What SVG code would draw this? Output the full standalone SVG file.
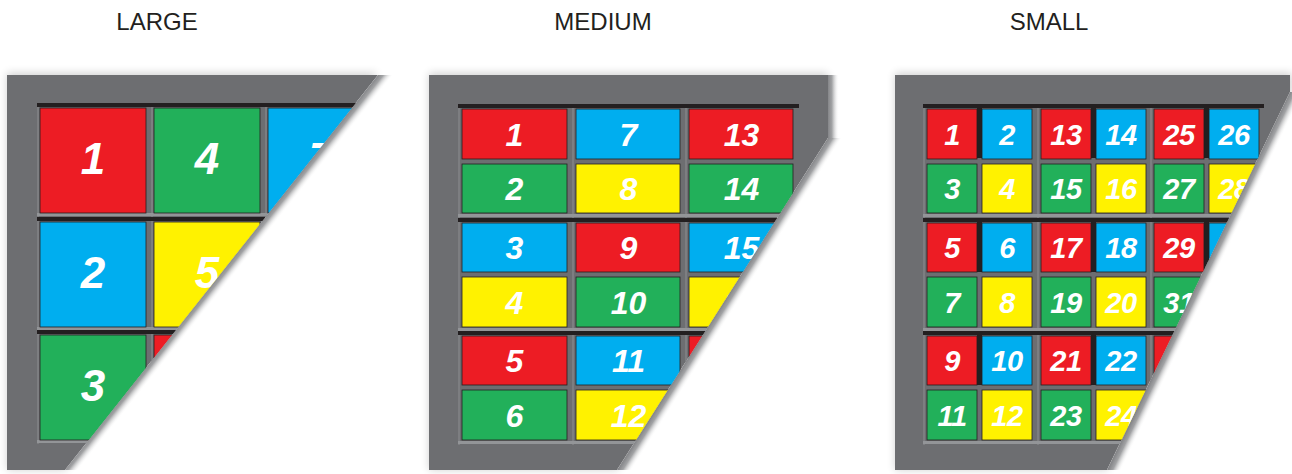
<svg xmlns="http://www.w3.org/2000/svg" width="1292" height="474" viewBox="0 0 1292 474">
<style>
.title{font-family:"Liberation Sans",Arial,sans-serif;font-size:24px;fill:#231f20;text-anchor:middle}
.panel{fill:#6d6e71}
.top{fill:#231f20}
.bot{fill:#939598}
.lft{fill:#7d7e81}
.cell rect{stroke:#231f20;stroke-width:0.8}
.red{fill:#ed1c24}.green{fill:#22b05a}.blue{fill:#00aeef}.yellow{fill:#fff200}
.n{font-family:"Liberation Sans",Arial,sans-serif;font-weight:bold;font-style:italic;fill:#fff;text-anchor:middle}
.nl{font-size:44px}.nm{font-size:32px}.ns{font-size:29px;letter-spacing:-0.5px}
</style>
<defs>
<filter id="soft" x="-10%" y="-10%" width="120%" height="120%"><feGaussianBlur stdDeviation="4"/></filter>
<clipPath id="cL"><polygon points="7,75 378,75 65,470 7,470"/></clipPath>
<clipPath id="cM"><polygon points="429,75 828,75 828,138 617,470 429,470"/></clipPath>
<clipPath id="cS"><polygon points="895,75 1290,75 1290,92 1107,470 895,470"/></clipPath>
<linearGradient id="gL" gradientUnits="userSpaceOnUse" x1="378" y1="75" x2="387.4" y2="82.5"><stop offset="0" stop-color="#858689"/><stop offset="0.35" stop-color="#a2a3a5"/><stop offset="1" stop-color="#fff" stop-opacity="0"/></linearGradient>
<linearGradient id="gM" gradientUnits="userSpaceOnUse" x1="828" y1="138" x2="838.1" y2="144.4"><stop offset="0" stop-color="#858689"/><stop offset="0.35" stop-color="#a2a3a5"/><stop offset="1" stop-color="#fff" stop-opacity="0"/></linearGradient>
<linearGradient id="gMv" gradientUnits="userSpaceOnUse" x1="828" y1="0" x2="839" y2="0"><stop offset="0" stop-color="#858689"/><stop offset="0.35" stop-color="#a2a3a5"/><stop offset="1" stop-color="#fff" stop-opacity="0"/></linearGradient>
<linearGradient id="gS" gradientUnits="userSpaceOnUse" x1="1290" y1="92" x2="1300.8" y2="97.2"><stop offset="0" stop-color="#858689"/><stop offset="0.35" stop-color="#a2a3a5"/><stop offset="1" stop-color="#fff" stop-opacity="0"/></linearGradient>
</defs>
<rect width="1292" height="474" fill="#fff"/>

<g id="titles">
<text class="title" x="157" y="30">LARGE</text>
<text class="title" x="603" y="30">MEDIUM</text>
<text class="title" x="1049" y="30">SMALL</text>
</g>

<!-- LARGE -->
<g id="large">
<polygon points="7,73 378,73 65,470 7,470" fill="#000" opacity="0.18" filter="url(#soft)"/>
<polygon points="378,75 396,75 83,470 65,470" fill="url(#gL)"/>
<g clip-path="url(#cL)">
<polygon class="panel" points="7,75 378,75 65,470 7,470"/>
<g id="L-slots">
<g transform="translate(37,103)"><rect class="lft" width="2" height="114"/><rect class="top" width="114" height="4"/><rect class="bot" y="110" width="114" height="3"/></g>
<g transform="translate(151,103)"><rect class="lft" width="2" height="114"/><rect class="top" width="114" height="4"/><rect class="bot" y="110" width="114" height="3"/></g>
<g transform="translate(265,103)"><rect class="lft" width="2" height="114"/><rect class="top" width="114" height="4"/><rect class="bot" y="110" width="114" height="3"/></g>
<g transform="translate(37,217)"><rect class="lft" width="2" height="114"/><rect class="top" width="114" height="4"/><rect class="bot" y="110" width="114" height="3"/></g>
<g transform="translate(151,217)"><rect class="lft" width="2" height="114"/><rect class="top" width="114" height="4"/><rect class="bot" y="110" width="114" height="3"/></g>
<g transform="translate(37,330)"><rect class="lft" width="2" height="114"/><rect class="top" width="114" height="4"/><rect class="bot" y="110" width="114" height="3"/></g>
<g transform="translate(151,330)"><rect class="lft" width="2" height="114"/><rect class="top" width="114" height="4"/><rect class="bot" y="110" width="114" height="3"/></g>
</g>
<g id="L1" class="cell"><rect class="red" x="40" y="108" width="106" height="105"/><text class="n nl" x="93" y="174">1</text></g>
<g id="L2" class="cell"><rect class="blue" x="40" y="222" width="106" height="105"/><text class="n nl" x="93" y="288">2</text></g>
<g id="L3" class="cell"><rect class="green" x="40" y="335" width="106" height="105"/><text class="n nl" x="93" y="401">3</text></g>
<g id="L4" class="cell"><rect class="green" x="154" y="108" width="106" height="105"/><text class="n nl" x="207" y="174">4</text></g>
<g id="L5" class="cell"><rect class="yellow" x="154" y="222" width="106" height="105"/><text class="n nl" x="207" y="288">5</text></g>
<g id="L6" class="cell"><rect class="red" x="154" y="335" width="106" height="105"/></g>
<g id="L7" class="cell"><rect class="blue" x="268" y="108" width="106" height="105"/><text class="n nl" x="321" y="174">7</text></g>
</g>
</g>

<!-- MEDIUM -->
<g id="medium">
<polygon points="429,73 828,73 828,138 617,470 429,470" fill="#000" opacity="0.18" filter="url(#soft)"/>
<rect x="828" y="75" width="12" height="63" fill="url(#gMv)"/>
<polygon points="828,138 846,138 635,470 617,470" fill="url(#gM)"/>
<g clip-path="url(#cM)">
<polygon class="panel" points="429,75 828,75 828,138 617,470 429,470"/>
<g id="M-slots">
<g transform="translate(458,104)"><rect class="lft" width="2" height="114"/><rect class="top" width="114" height="4"/><rect class="bot" y="110" width="114" height="3"/></g>
<g transform="translate(572,104)"><rect class="lft" width="2" height="114"/><rect class="top" width="114" height="4"/><rect class="bot" y="110" width="114" height="3"/></g>
<g transform="translate(685,104)"><rect class="lft" width="2" height="114"/><rect class="top" width="114" height="4"/><rect class="bot" y="110" width="114" height="3"/></g>
<g transform="translate(458,218)"><rect class="lft" width="2" height="114"/><rect class="top" width="114" height="4"/><rect class="bot" y="110" width="114" height="3"/></g>
<g transform="translate(572,218)"><rect class="lft" width="2" height="114"/><rect class="top" width="114" height="4"/><rect class="bot" y="110" width="114" height="3"/></g>
<g transform="translate(685,218)"><rect class="lft" width="2" height="114"/><rect class="top" width="114" height="4"/><rect class="bot" y="110" width="114" height="3"/></g>
<g transform="translate(458,331)"><rect class="lft" width="2" height="114"/><rect class="top" width="114" height="4"/><rect class="bot" y="110" width="114" height="3"/></g>
<g transform="translate(572,331)"><rect class="lft" width="2" height="114"/><rect class="top" width="114" height="4"/><rect class="bot" y="110" width="114" height="3"/></g>
<g transform="translate(685,331)"><rect class="lft" width="2" height="114"/><rect class="top" width="114" height="4"/><rect class="bot" y="110" width="114" height="3"/></g>
</g>
<g id="M1" class="cell"><rect class="red" x="462" y="109" width="105" height="50"/><text class="n nm" x="514.5" y="146">1</text></g>
<g id="M2" class="cell"><rect class="green" x="462" y="164" width="105" height="49"/><text class="n nm" x="514.5" y="200">2</text></g>
<g id="M3" class="cell"><rect class="blue" x="462" y="223" width="105" height="49"/><text class="n nm" x="514.5" y="259">3</text></g>
<g id="M4" class="cell"><rect class="yellow" x="462" y="277" width="105" height="50"/><text class="n nm" x="514.5" y="314">4</text></g>
<g id="M5" class="cell"><rect class="red" x="462" y="336" width="105" height="49"/><text class="n nm" x="514.5" y="372">5</text></g>
<g id="M6" class="cell"><rect class="green" x="462" y="390" width="105" height="50"/><text class="n nm" x="514.5" y="427">6</text></g>
<g id="M7" class="cell"><rect class="blue" x="576" y="109" width="104" height="50"/><text class="n nm" x="628.5" y="146">7</text></g>
<g id="M8" class="cell"><rect class="yellow" x="576" y="164" width="104" height="49"/><text class="n nm" x="628.5" y="200">8</text></g>
<g id="M9" class="cell"><rect class="red" x="576" y="223" width="104" height="49"/><text class="n nm" x="628.5" y="259">9</text></g>
<g id="M10" class="cell"><rect class="green" x="576" y="277" width="104" height="50"/><text class="n nm" x="628.5" y="314">10</text></g>
<g id="M11" class="cell"><rect class="blue" x="576" y="336" width="104" height="49"/><text class="n nm" x="628.5" y="372">11</text></g>
<g id="M12" class="cell"><rect class="yellow" x="576" y="390" width="104" height="50"/><text class="n nm" x="628.5" y="427">12</text></g>
<g id="M13" class="cell"><rect class="red" x="689" y="109" width="104" height="50"/><text class="n nm" x="741.5" y="146">13</text></g>
<g id="M14" class="cell"><rect class="green" x="689" y="164" width="104" height="49"/><text class="n nm" x="741.5" y="200">14</text></g>
<g id="M15" class="cell"><rect class="blue" x="689" y="223" width="104" height="49"/><text class="n nm" x="741.5" y="259">15</text></g>
<g id="M16" class="cell"><rect class="yellow" x="689" y="277" width="104" height="50"/><text class="n nm" x="741.5" y="314">16</text></g>
<g id="M17" class="cell"><rect class="red" x="689" y="336" width="104" height="49"/></g>
</g>
</g>

<!-- SMALL -->
<g id="small">
<polygon points="895,73 1292,73 1292,92 1107,470 895,470" fill="#000" opacity="0.18" filter="url(#soft)"/>
<polygon points="1290,92 1308,92 1125,470 1107,470" fill="url(#gS)"/>
<g clip-path="url(#cS)">
<polygon class="panel" points="895,75 1290,75 1290,92 1107,470 895,470"/>
<g id="S-slots">
<g transform="translate(923,104)"><rect class="lft" width="2" height="114"/><rect class="top" width="114" height="4"/><rect class="top" x="54" width="5" height="54"/><rect class="bot" y="110" width="114" height="3"/></g>
<g transform="translate(1037,104)"><rect class="lft" width="2" height="114"/><rect class="top" width="114" height="4"/><rect class="top" x="54" width="5" height="54"/><rect class="bot" y="110" width="114" height="3"/></g>
<g transform="translate(1150,104)"><rect class="lft" width="2" height="114"/><rect class="top" width="114" height="4"/><rect class="top" x="54" width="5" height="54"/><rect class="bot" y="110" width="114" height="3"/></g>
<g transform="translate(923,218)"><rect class="lft" width="2" height="114"/><rect class="top" width="114" height="4"/><rect class="top" x="54" width="5" height="54"/><rect class="bot" y="110" width="114" height="3"/></g>
<g transform="translate(1037,218)"><rect class="lft" width="2" height="114"/><rect class="top" width="114" height="4"/><rect class="top" x="54" width="5" height="54"/><rect class="bot" y="110" width="114" height="3"/></g>
<g transform="translate(1150,218)"><rect class="lft" width="2" height="114"/><rect class="top" width="114" height="4"/><rect class="top" x="54" width="5" height="54"/><rect class="bot" y="110" width="114" height="3"/></g>
<g transform="translate(923,331)"><rect class="lft" width="2" height="114"/><rect class="top" width="114" height="4"/><rect class="top" x="54" width="5" height="54"/><rect class="bot" y="110" width="114" height="3"/></g>
<g transform="translate(1037,331)"><rect class="lft" width="2" height="114"/><rect class="top" width="114" height="4"/><rect class="top" x="54" width="5" height="54"/><rect class="bot" y="110" width="114" height="3"/></g>
<g transform="translate(1150,331)"><rect class="lft" width="2" height="114"/><rect class="top" width="114" height="4"/><rect class="top" x="54" width="5" height="54"/><rect class="bot" y="110" width="114" height="3"/></g>
</g>
<g id="S1" class="cell"><rect class="red" x="927" y="109" width="50" height="50"/><text class="n ns" x="952" y="144.5">1</text></g>
<g id="S2" class="cell"><rect class="blue" x="982" y="109" width="50" height="50"/><text class="n ns" x="1007" y="144.5">2</text></g>
<g id="S3" class="cell"><rect class="green" x="927" y="164" width="50" height="49"/><text class="n ns" x="952" y="199">3</text></g>
<g id="S4" class="cell"><rect class="yellow" x="982" y="164" width="50" height="49"/><text class="n ns" x="1007" y="199">4</text></g>
<g id="S5" class="cell"><rect class="red" x="927" y="223" width="50" height="49"/><text class="n ns" x="952" y="258">5</text></g>
<g id="S6" class="cell"><rect class="blue" x="982" y="223" width="50" height="49"/><text class="n ns" x="1007" y="258">6</text></g>
<g id="S7" class="cell"><rect class="green" x="927" y="277" width="50" height="50"/><text class="n ns" x="952" y="312.5">7</text></g>
<g id="S8" class="cell"><rect class="yellow" x="982" y="277" width="50" height="50"/><text class="n ns" x="1007" y="312.5">8</text></g>
<g id="S9" class="cell"><rect class="red" x="927" y="336" width="50" height="49"/><text class="n ns" x="952" y="371">9</text></g>
<g id="S10" class="cell"><rect class="blue" x="982" y="336" width="50" height="49"/><text class="n ns" x="1007" y="371">10</text></g>
<g id="S11" class="cell"><rect class="green" x="927" y="390" width="50" height="50"/><text class="n ns" x="952" y="425.5">11</text></g>
<g id="S12" class="cell"><rect class="yellow" x="982" y="390" width="50" height="50"/><text class="n ns" x="1007" y="425.5">12</text></g>
<g id="S13" class="cell"><rect class="red" x="1041" y="109" width="50" height="50"/><text class="n ns" x="1066" y="144.5">13</text></g>
<g id="S14" class="cell"><rect class="blue" x="1096" y="109" width="50" height="50"/><text class="n ns" x="1121" y="144.5">14</text></g>
<g id="S15" class="cell"><rect class="green" x="1041" y="164" width="50" height="49"/><text class="n ns" x="1066" y="199">15</text></g>
<g id="S16" class="cell"><rect class="yellow" x="1096" y="164" width="50" height="49"/><text class="n ns" x="1121" y="199">16</text></g>
<g id="S17" class="cell"><rect class="red" x="1041" y="223" width="50" height="49"/><text class="n ns" x="1066" y="258">17</text></g>
<g id="S18" class="cell"><rect class="blue" x="1096" y="223" width="50" height="49"/><text class="n ns" x="1121" y="258">18</text></g>
<g id="S19" class="cell"><rect class="green" x="1041" y="277" width="50" height="50"/><text class="n ns" x="1066" y="312.5">19</text></g>
<g id="S20" class="cell"><rect class="yellow" x="1096" y="277" width="50" height="50"/><text class="n ns" x="1121" y="312.5">20</text></g>
<g id="S21" class="cell"><rect class="red" x="1041" y="336" width="50" height="49"/><text class="n ns" x="1066" y="371">21</text></g>
<g id="S22" class="cell"><rect class="blue" x="1096" y="336" width="50" height="49"/><text class="n ns" x="1121" y="371">22</text></g>
<g id="S23" class="cell"><rect class="green" x="1041" y="390" width="50" height="50"/><text class="n ns" x="1066" y="425.5">23</text></g>
<g id="S24" class="cell"><rect class="yellow" x="1096" y="390" width="50" height="50"/><text class="n ns" x="1121" y="425.5">24</text></g>
<g id="S25" class="cell"><rect class="red" x="1154" y="109" width="50" height="50"/><text class="n ns" x="1179" y="144.5">25</text></g>
<g id="S26" class="cell"><rect class="blue" x="1209" y="109" width="50" height="50"/><text class="n ns" x="1234" y="144.5">26</text></g>
<g id="S27" class="cell"><rect class="green" x="1154" y="164" width="50" height="49"/><text class="n ns" x="1179" y="199">27</text></g>
<g id="S28" class="cell"><rect class="yellow" x="1209" y="164" width="50" height="49"/><text class="n ns" x="1234" y="199">28</text></g>
<g id="S29" class="cell"><rect class="red" x="1154" y="223" width="50" height="49"/><text class="n ns" x="1179" y="258">29</text></g>
<g id="S30" class="cell"><rect class="blue" x="1209" y="223" width="50" height="49"/><text class="n ns" x="1234" y="258">30</text></g>
<g id="S31" class="cell"><rect class="green" x="1154" y="277" width="50" height="50"/><text class="n ns" x="1179" y="312.5">31</text></g>
<g id="S33" class="cell"><rect class="red" x="1154" y="336" width="50" height="49"/><text class="n ns" x="1179" y="371">33</text></g>
</g>
</g>
</svg>
